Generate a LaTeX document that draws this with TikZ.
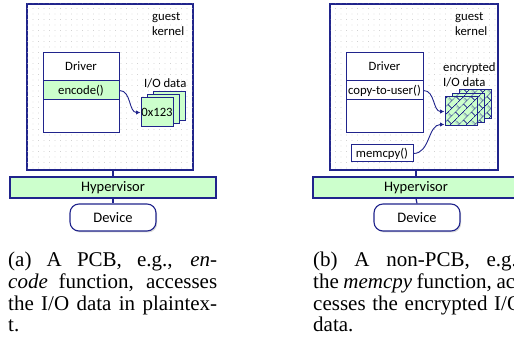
\documentclass[tikz,border=0pt]{standalone}
\usepackage{fontspec}
\setmainfont{Liberation Serif}
\newfontfamily\diagfont{Carlito}
\usetikzlibrary{arrows.meta,positioning,calc,shadows,patterns.meta}

\definecolor{navy}{RGB}{32,36,140}
\definecolor{lgreen}{RGB}{204,255,204}

% diagonal bricks for the encrypted pages
\tikzdeclarepattern{
  name=diagbrick, type=uncolored,
  bottom left={(0pt,0pt)}, top right={(11pt,11pt)}, tile size={(11pt,11pt)},
  tile transformation={rotate=45},
  code={
    \draw[line width=0.55pt] (0pt,1pt) -- (11pt,1pt) (0pt,6.5pt) -- (11pt,6.5pt)
      (2pt,1pt) -- (2pt,6.5pt) (7.5pt,6.5pt) -- (7.5pt,11pt) (7.5pt,0pt) -- (7.5pt,1pt);
  }
}

\begin{document}
\begin{tikzpicture}[
  x=1pt, y=-1pt,
  font=\diagfont\fontsize{12.7}{15}\selectfont,
  shadowed/.style={drop shadow={opacity=.3, shadow xshift=1.2pt, shadow yshift=-1.5pt}},
  kern/.style={draw=navy, line width=1.1pt, fill=white, shadowed,
    postaction={pattern={Dots[distance=5.5pt, radius=.45pt]}, pattern color=gray!55},
    minimum height=166pt, inner sep=0pt},
  lbl/.style={inner sep=0pt, align=left, anchor=west},
  drv/.style={draw=navy, line width=1pt, fill=white, minimum width=76pt, minimum height=80pt, inner sep=0pt},
  row/.style={draw=navy, line width=1pt, minimum width=76pt, minimum height=19pt, inner sep=0pt},
  pkt/.style={draw=navy, line width=1pt, fill=lgreen, minimum width=32pt, minimum height=29pt, inner sep=0pt},
  enc/.style={pkt, postaction={pattern=diagbrick, pattern color=navy}},
  callbox/.style={draw=navy, line width=1pt, fill=white, minimum width=62pt, minimum height=17pt, inner sep=0pt},
  hyp/.style={draw=navy, line width=1.1pt, fill=lgreen, shadowed, minimum width=206pt, minimum height=21pt,
    font=\diagfont\fontsize{14.5}{16}\selectfont},
  dev/.style={draw=navy, line width=1.1pt, fill=white, shadowed, rounded corners=9pt, minimum width=86pt,
    minimum height=27pt, font=\diagfont\fontsize{14.5}{16}\selectfont},
  link/.style={navy, line width=1.2pt},
  arr/.style={navy, line width=.9pt, -{Latex[length=4.5pt, width=4.5pt]}},
  subcap/.style={anchor=north west, inner sep=0pt, text width=209pt, align=justify,
    font=\normalfont\fontsize{21}{21.7}\selectfont}
]
\useasboundingbox (0,0) rectangle (514,344);

% (a) PCB
\node[kern, minimum width=166pt] (kernA) at (110,87) {};
\node[lbl] (kernAt) at (152,24.5) {guest\\kernel};
\node[drv] (drvA) at (81,93) {};
\node[inner sep=0pt] (drvAt) at (81,66) {Driver};
\node[row, fill=lgreen] (encA) at (81,90.5) {encode()};
\node[pkt] (ioA3) at (169,105.7) {};
\node[pkt] (ioA2) at (163,109.1) {};
\node[pkt] (ioA1) at (157,112.5) {0x123};
\node[lbl] (ioAt) at (144,83) {I/O data};
\draw[arr] (encA.east) to[out=0, in=180] (ioA1.west);

\node[hyp] (hypA) at (113,187.5) {Hypervisor};
\node[dev] (devA) at (113,217.5) {Device};
\draw[link] (hypA.north |- kernA.south) -- (hypA.north);
\draw[link] (hypA.south) -- (devA.north);

% (b) non-PCB
\node[kern, minimum width=168pt] (kernB) at (414,87) {};
\node[lbl] (kernBt) at (455,24.5) {guest\\kernel};
\node[drv, minimum width=77pt] (drvB) at (384.5,93) {};
\node[inner sep=0pt] (drvBt) at (384.5,66) {Driver};
\node[row, minimum width=77pt] (cpyB) at (384.5,90.5) {copy-to-user()};
\node[callbox] (memB) at (382,153.5) {memcpy()};
\node[enc] (ioB3) at (475,104.5) {};
\node[enc] (ioB2) at (468,108) {};
\node[enc] (ioB1) at (461,111.5) {};
\node[lbl] (ioBt) at (443,75) {encrypted\\I/O data};
\draw[arr] (cpyB.east) to[out=0, in=180] (ioB1.west);
\draw[arr] (memB.east) to[out=0, in=180] ($(ioB1.south west)+(0,-2)$);

\node[hyp] (hypB) at (416,187.5) {Hypervisor};
\node[dev] (devB) at (417,217.5) {Device};
\draw[link] (hypB.north |- kernB.south) -- (hypB.north);
\draw[link] (hypB.south) -- (devB.north);

% captions
\node[subcap] (capA) at (8,252) {(a) A PCB, e.g., \textit{en-}\linebreak
  \textit{code} function, accesses\linebreak
  the I/O data in plaintex-\linebreak
  t.};
\node[subcap] (capB) at (313,252) {(b) A non-PCB, e.g.,\linebreak
  the \textit{memcpy} function, ac-\linebreak
  cesses the encrypted I/O\linebreak
  data.};
\end{tikzpicture}
\end{document}
